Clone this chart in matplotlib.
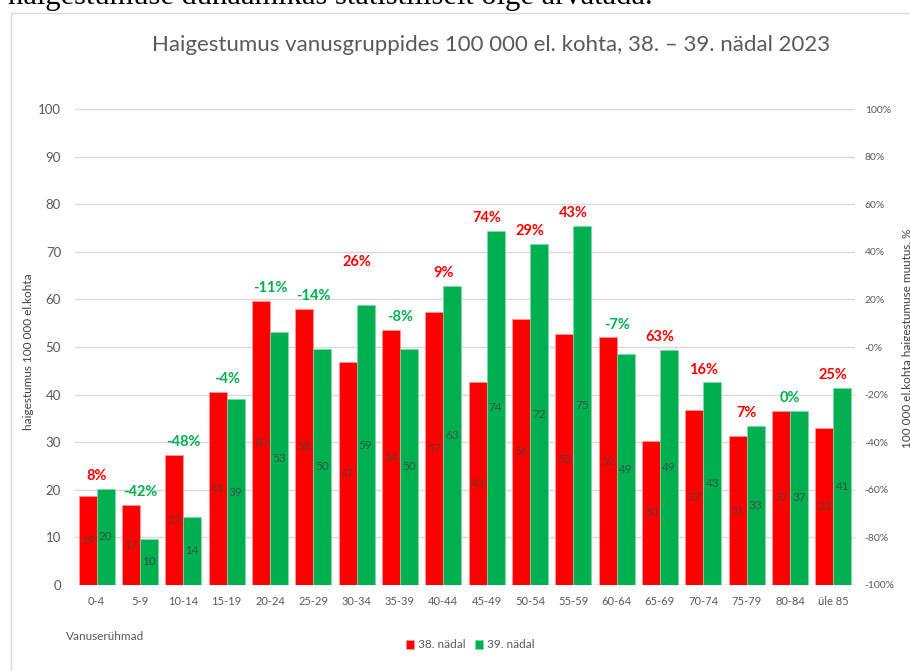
import matplotlib.pyplot as plt
import matplotlib.patches as patches
from matplotlib.ticker import FuncFormatter
import numpy as np

# %% andmed
vanused = ['0-4', '5-9', '10-14', '15-19', '20-24', '25-29', '30-34', '35-39',
           '40-44', '45-49', '50-54', '55-59', '60-64', '65-69', '70-74',
           '75-79', '80-84', 'üle 85']
nadal38 = [18.7, 16.8, 27.3, 40.6, 59.7, 58.0, 46.8, 53.6, 57.4, 42.6, 55.9,
           52.7, 52.0, 30.3, 36.8, 31.3, 36.6, 33.0]
nadal39 = [20.2, 9.7, 14.3, 39.0, 53.2, 49.6, 58.8, 49.6, 62.8, 74.4, 71.6,
           75.4, 48.6, 49.4, 42.6, 33.4, 36.6, 41.4]
muutus = [8, -42, -48, -4, -11, -14, 26, -8, 9, 74, 29, 43, -7, 63, 16, 7, 0, 25]

punane = '#FF0000'
roheline = '#00B050'
hall = '#595959'
plt.rcParams['font.family'] = ['Lato', 'DejaVu Sans']

# %%
fig = plt.figure(figsize=(9.1, 6.71), dpi=100)
W, H = 910, 671

# lõigatud tekstirida ülal
fig.text(8 / W, 1 - 4 / H, 'haigestumuse dünaamikas statistiliselt õige arvatada.',
         family='Liberation Serif', fontsize=22, color='black',
         ha='left', va='baseline')
# diagrammi raam
fig.patches.append(patches.Rectangle((11 / W, -0.05), 1.0, 1 - 13 / H + 0.05,
                                     transform=fig.transFigure, fill=False,
                                     edgecolor='#d9d9d9', linewidth=1))

ax = fig.add_axes([75 / W, 1 - 585 / H, 780 / W, (585 - 109) / H])
x = np.arange(len(vanused))
w = 0.415
ax.bar(x - w / 2, nadal38, w, color=punane, edgecolor='#ff9999',
       linewidth=0.5, label='38. nädal', zorder=3)
ax.bar(x + w / 2, nadal39, w, color=roheline, edgecolor='#80d8a8',
       linewidth=0.5, label='39. nädal', zorder=3)

for i in range(len(vanused)):
    ax.text(x[i] - w / 2, nadal38[i] / 2, '{:.0f}'.format(nadal38[i]),
            ha='center', va='center', fontsize=8.5, color='#404040',
            alpha=0.8, zorder=4)
    ax.text(x[i] + w / 2, nadal39[i] / 2, '{:.0f}'.format(nadal39[i]),
            ha='center', va='center', fontsize=8.5, color='#404040',
            alpha=0.8, zorder=4)

lisa = {6: 6.3}
for i, m in enumerate(muutus):
    top = max(nadal38[i], nadal39[i]) + 1.2 + lisa.get(i, 0)
    ax.text(x[i], top, '{}%'.format(m), ha='center', va='bottom',
            fontsize=10.5, fontweight='bold',
            color=punane if m > 0 else roheline, zorder=5)

ax.set_xlim(-0.5, len(vanused) - 0.5)
ax.set_ylim(0, 100)
ax.set_yticks(range(0, 101, 10))
ax.set_xticks(x)
ax.set_xticklabels(vanused)
ax.tick_params(axis='x', length=0, pad=8, labelsize=8, labelcolor=hall)
ax.tick_params(axis='y', length=0, pad=10, labelsize=9.5, labelcolor=hall)
ax.grid(axis='y', color='#d9d9d9', linewidth=1, zorder=0)
for s in ax.spines.values():
    s.set_visible(False)
ax.axhline(0, color='#d9d9d9', linewidth=1, zorder=2)
ax.set_ylabel('haigestumus 100 000 el.kohta', fontsize=8.5, color='#404040')
ax.yaxis.set_label_coords((34 - 75) / 780, 0.49)

ax2 = ax.twinx()
ax2.set_ylim(-1, 1)
ax2.set_yticks(np.arange(-1, 1.01, 0.2))
ax2.yaxis.set_major_formatter(FuncFormatter(lambda v, p: '{:.0f}%'.format(v * 100)))
ax2.tick_params(axis='y', length=0, pad=7, labelsize=7.5, labelcolor=hall)
for s in ax2.spines.values():
    s.set_visible(False)
fig.text(902 / W, 1 - 338 / H, '100 000 el.kohta haigestumuse muutus, %',
         rotation=90, fontsize=8.5, color='#404040', ha='left', va='center')

fig.text(491 / W, 1 - 45 / H,
         'Haigestumus vanusgruppides 100 000 el. kohta, 38. – 39. nädal 2023',
         ha='center', va='center', fontsize=16, color=hall)
fig.text(66 / W, 1 - 636 / H, 'Vanuserühmad', ha='left', va='center',
         fontsize=8.5, color=hall)

fig.legend(loc='center', bbox_to_anchor=(470 / W, 1 - 645 / H), ncol=2,
           frameon=False, fontsize=8.5, handlelength=0.7, handleheight=0.7,
           handletextpad=0.3, columnspacing=0.8, labelcolor=hall)

fig.savefig('out.png', dpi=100)
